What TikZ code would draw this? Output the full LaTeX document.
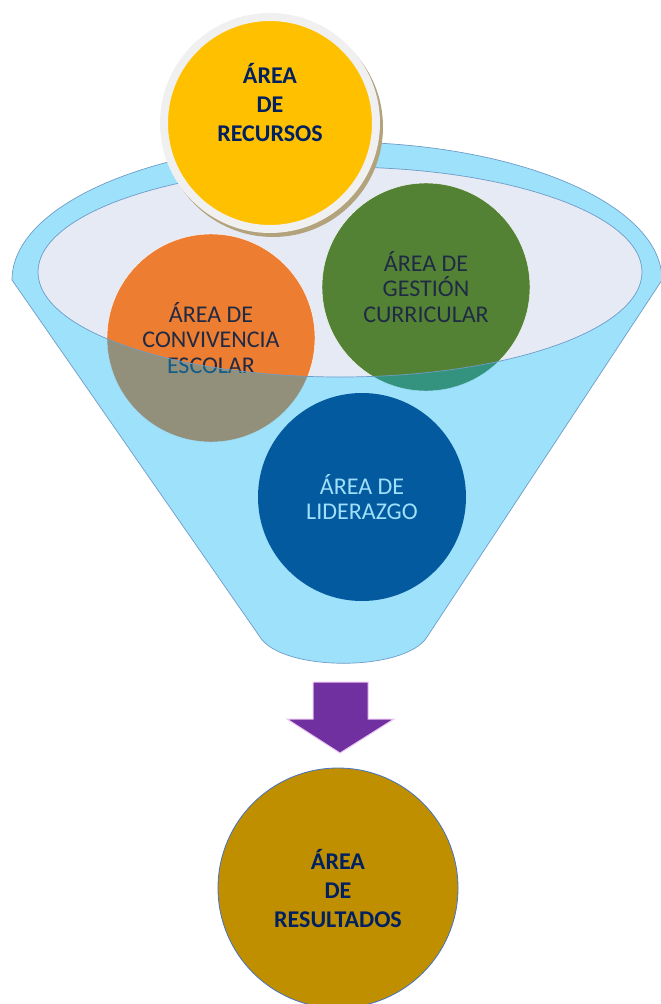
\documentclass[tikz,border=0pt]{standalone}
\usepackage{xcolor}
\usepackage{fontspec}
\setmainfont{Carlito}
\usepackage{tikz}
\usetikzlibrary{positioning}

\definecolor{areaorange}{HTML}{ED7D31}
\definecolor{areagreen}{HTML}{548235}
\definecolor{areanavy}{HTML}{082669}
\definecolor{areayellow}{HTML}{FFC000}
\definecolor{areabrown}{HTML}{BF8F00}
\definecolor{funnelblue}{HTML}{00AFF5}
\definecolor{pale}{HTML}{E6EAF5}
\definecolor{rimline}{HTML}{6E9CC6}
\definecolor{darktext}{HTML}{1F2A44}
\definecolor{navytext}{HTML}{002060}
\definecolor{ringgrey}{HTML}{F0F0F0}
\definecolor{shadowtan}{HTML}{B3A37C}
\definecolor{arrowpurple}{HTML}{7030A0}
\definecolor{arrowglow}{HTML}{EBC6F0}
\definecolor{brownline}{HTML}{4472C4}

\begin{document}
\begin{tikzpicture}[x=1pt,y=-1pt,node distance=100pt,on grid]
        \tikzstyle{area}=[circle,minimum size=208pt,inner sep=0pt,align=center,font=\fontsize{24}{25.5}\selectfont]
        \tikzstyle{big area}=[align=center,inner sep=0pt,font=\fontsize{24}{29}\selectfont\bfseries,text=navytext]
        \useasboundingbox (0,0) rectangle (661,1004);
        \fill[pale] (340,272) ellipse[x radius=302,y radius=105];
        \node[area,fill=areaorange,draw=white,text=darktext] (convivencia) at (211,338) {ÁREA DE\\CONVIVENCIA\\ESCOLAR};
        \node[area,fill=areagreen,draw=white,text=darktext] (gestion) [above right=51pt and 215pt of convivencia] {ÁREA DE\\GESTIÓN\\CURRICULAR};
        \node[area,fill=areanavy,text=white] (liderazgo) [below right=159pt and 151pt of convivencia] {ÁREA DE\\LIDERAZGO};
        \path[draw=rimline,line width=0.7pt,fill=funnelblue,fill opacity=0.38,even odd rule]
            (12,280) arc[start angle=180,end angle=360,x radius=325,y radius=138] -- (427,637)
            .. controls (405,672) and (282,672) .. (260,637) -- cycle
            (340,272) ellipse[x radius=302,y radius=105];
        \coordinate (rc) at (270,123);
        \fill[shadowtan] ([xshift=3pt,yshift=-4pt]rc) circle[radius=110pt];
        \node[circle,minimum size=212pt,inner sep=0pt,fill=areayellow,draw=ringgrey,line width=8pt] (recursos) at (rc) {};
        \node[big area] (recursostxt) at ([yshift=20pt]recursos.center) {ÁREA\\DE\\RECURSOS};
        \fill[arrowpurple,draw=arrowglow,line width=1pt] (313,682) -- (368,682) -- (368,719) -- (394,719)
            -- (340,753) -- (287,719) -- (313,719) -- cycle;
        \node[big area,circle,minimum size=240pt,fill=areabrown,draw=brownline,line width=0.8pt] (resultados) at (338,888) {ÁREA\\DE\\RESULTADOS};
    \end{tikzpicture}
\end{document}
